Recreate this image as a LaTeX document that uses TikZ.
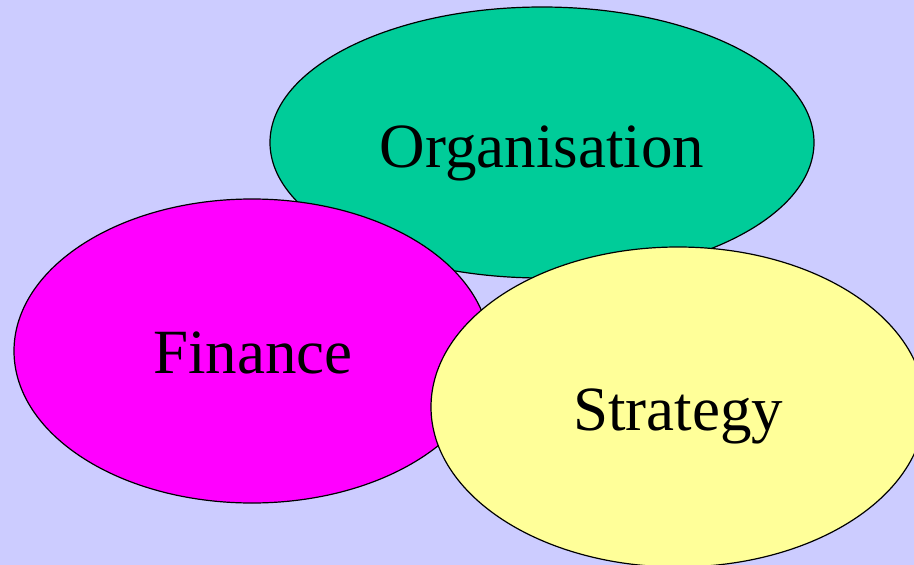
\documentclass[tikz,border=0pt]{standalone}
\usepackage{fontspec}
\setmainfont{Liberation Serif}
\usetikzlibrary{shapes.geometric}
\definecolor{bgblue}{HTML}{CCCCFF}
\definecolor{orggreen}{HTML}{00CC99}
\definecolor{finmagenta}{HTML}{FF00FF}
\definecolor{strayellow}{HTML}{FFFF99}
\tikzset{
  blob/.style={ellipse, draw=black, line width=1.2pt, inner sep=0pt},
  word/.style={anchor=base, inner sep=0pt, font=\fontsize{63}{70}\selectfont}
}
\begin{document}
\begin{tikzpicture}[x=1pt,y=-1pt]
% background
\fill[bgblue] (0,0) rectangle (914,565);
\useasboundingbox (0,0) rectangle (914,565);

\node[blob, fill=orggreen, minimum width=544pt, minimum height=271pt] (org) at (542,142.5) {};
\node[blob, fill=finmagenta, minimum width=476pt, minimum height=304pt] (fin) at (252,351) {};
\node[blob, fill=strayellow, minimum width=494pt, minimum height=320pt] (stra) at (678,407) {};

\node[word] (orgtext) at (542,167) {Organisation};
\node[word] (fintext) at (253,373) {Finance};
\node[word] (stratext) at (678,430) {Strategy};
\end{tikzpicture}
\end{document}
